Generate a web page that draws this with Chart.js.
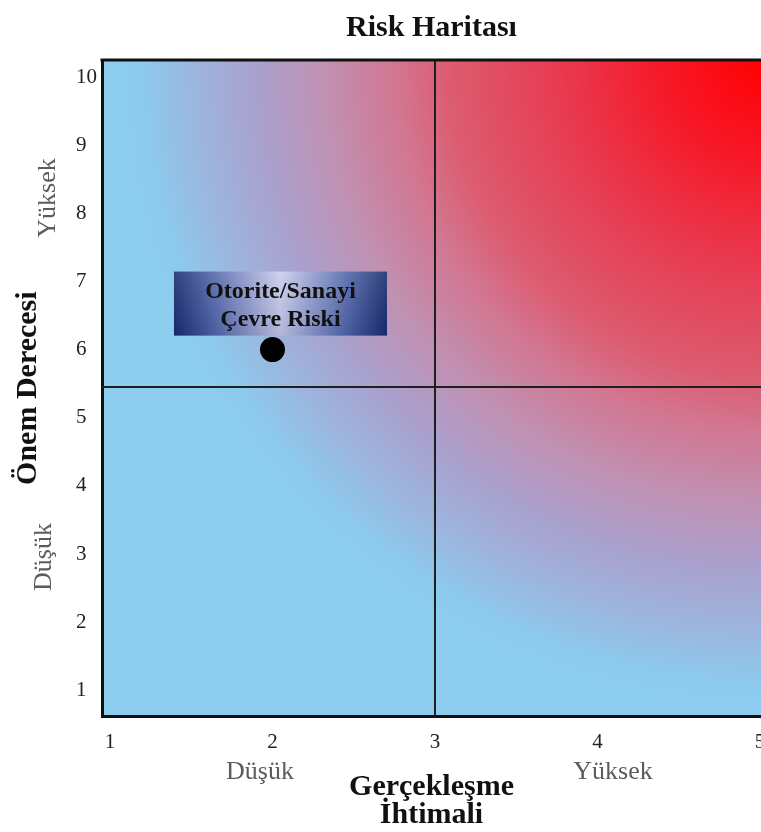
<!DOCTYPE html>
<html lang="tr">
<head>
<meta charset="utf-8">
<title>Risk Haritası</title>
<script src="https://cdn.jsdelivr.net/npm/chart.js@4.4.1/dist/chart.umd.min.js"></script>
<style>
  html, body { margin: 0; padding: 0; background: #ffffff; overflow: hidden; }
  canvas { display: block; }
</style>
</head>
<body>
<canvas id="riskMap" width="761" height="832"></canvas>
<script>
const SERIF = "'Liberation Serif', 'Times New Roman', serif";

// Axis ticks and visible ranges
const probabilityTicks = [1, 2, 3, 4, 5];
const severityTicks = [1, 2, 3, 4, 5, 6, 7, 8, 9, 10];
const probabilityRange = [0.951, 5.006];
const severityRange = [0.618, 10.25];

// Plotted risks
const riskNames = [['Otorite/Sanayi', 'Çevre Riski']];
const riskProbability = [2];
const riskSeverity = [6];

// Quadrant dividers
const dividerProbability = 3;
const dividerSeverity = 5.45;

// Band labels along both axes
const lowLabel = 'Düşük';
const highLabel = 'Yüksek';

const riskPoints = riskProbability.map((x, i) => ({ x, y: riskSeverity[i] }));

// Red-to-blue heat field, hottest in the upper right corner
const heatBackground = {
  id: 'heatBackground',
  beforeDraw(chart) {
    const { ctx, chartArea: a } = chart;
    const cx = a.right + 8, cy = a.top - 4;
    const g = ctx.createRadialGradient(cx, cy, 0, cx, cy, 655);
    g.addColorStop(0.00, 'rgb(255,0,0)');
    g.addColorStop(0.14, 'rgb(248,20,34)');
    g.addColorStop(0.32, 'rgb(232,58,80)');
    g.addColorStop(0.49, 'rgb(220,92,112)');
    g.addColorStop(0.57, 'rgb(210,118,145)');
    g.addColorStop(0.68, 'rgb(192,145,178)');
    g.addColorStop(0.78, 'rgb(170,160,205)');
    g.addColorStop(0.88, 'rgb(155,182,222)');
    g.addColorStop(0.96, 'rgb(140,203,238)');
    g.addColorStop(1.00, 'rgb(140,205,240)');
    ctx.save();
    ctx.fillStyle = g;
    ctx.fillRect(a.left, a.top, a.right - a.left, a.bottom - a.top);
    ctx.restore();
  }
};

// Named boxes above each risk point
const riskLabels = {
  id: 'riskLabels',
  afterDatasetsDraw(chart) {
    const { ctx } = chart;
    const meta = chart.getDatasetMeta(2);
    meta.data.forEach((pt, i) => {
      const w = 213, h = 64;
      const left = pt.x - 98.5, top = pt.y - 78;
      ctx.save();
      const g = ctx.createLinearGradient(left, 0, left + w, 0);
      g.addColorStop(0.00, '#16296c');
      g.addColorStop(0.18, '#4d62a6');
      g.addColorStop(0.50, '#c9cdec');
      g.addColorStop(0.82, '#4d62a6');
      g.addColorStop(1.00, '#16296c');
      ctx.fillStyle = g;
      ctx.fillRect(left, top, w, h);
      const v = ctx.createLinearGradient(0, top, 0, top + h);
      v.addColorStop(0, 'rgba(255,255,255,0.12)');
      v.addColorStop(1, 'rgba(20,30,90,0.12)');
      ctx.fillStyle = v;
      ctx.fillRect(left, top, w, h);
      ctx.fillStyle = '#111111';
      ctx.font = 'bold 24px ' + SERIF;
      ctx.textAlign = 'center';
      ctx.textBaseline = 'middle';
      riskNames[i].forEach((line, k) => {
        ctx.fillText(line, left + w / 2, top + 20 + k * 28);
      });
      ctx.restore();
    });
  }
};

// Top frame edge and the low/high band captions
const frameAndBands = {
  id: 'frameAndBands',
  afterDraw(chart) {
    const { ctx, chartArea: a } = chart;
    ctx.save();
    ctx.strokeStyle = '#111111';
    ctx.lineWidth = 3;
    ctx.beginPath();
    ctx.moveTo(a.left - 1.5, a.top);
    ctx.lineTo(a.right, a.top);
    ctx.stroke();

    ctx.fillStyle = '#5c5c5c';
    ctx.font = '26px ' + SERIF;
    ctx.textAlign = 'center';
    ctx.textBaseline = 'middle';
    ctx.fillText(lowLabel, a.left + 158, a.bottom + 56);
    ctx.fillText(highLabel, a.left + 511, a.bottom + 56);

    ctx.save();
    ctx.translate(48, a.top + 138);
    ctx.rotate(-Math.PI / 2);
    ctx.fillText(highLabel, 0, 0);
    ctx.restore();

    ctx.save();
    ctx.translate(44, a.top + 497);
    ctx.rotate(-Math.PI / 2);
    ctx.fillText(lowLabel, 0, 0);
    ctx.restore();
    ctx.restore();
  }
};

new Chart(document.getElementById('riskMap'), {
  type: 'scatter',
  data: {
    datasets: [
      {
        type: 'line',
        data: [{ x: dividerProbability, y: severityRange[0] }, { x: dividerProbability, y: severityRange[1] }],
        borderColor: '#1f1f1f',
        borderWidth: 2,
        pointRadius: 0,
        fill: false
      },
      {
        type: 'line',
        data: [{ x: probabilityRange[0], y: dividerSeverity }, { x: probabilityRange[1], y: dividerSeverity }],
        borderColor: '#1f1f1f',
        borderWidth: 2,
        pointRadius: 0,
        fill: false
      },
      {
        type: 'scatter',
        data: riskPoints,
        backgroundColor: '#000000',
        borderWidth: 0,
        pointRadius: 12.5,
        pointHoverRadius: 12.5
      }
    ]
  },
  options: {
    responsive: false,
    animation: false,
    layout: { autoPadding: false, padding: { left: 0, right: 0, top: 0, bottom: 0 } },
    plugins: {
      legend: { display: false },
      tooltip: { enabled: false },
      title: {
        display: true,
        fullSize: false,
        text: 'Risk Haritası',
        color: '#111111',
        font: { family: SERIF, size: 30, weight: 'bold', lineHeight: 1.2 },
        padding: { top: 10, bottom: 14 }
      }
    },
    scales: {
      x: {
        type: 'linear',
        min: probabilityRange[0],
        max: probabilityRange[1],
        afterBuildTicks(scale) { scale.ticks = probabilityTicks.map(v => ({ value: v })); },
        afterFit(scale) { scale.paddingRight = 0; },
        grid: { display: false, drawTicks: false },
        border: { display: true, color: '#111111', width: 3 },
        ticks: {
          color: '#222222',
          padding: 13.5,
          font: { family: SERIF, size: 21, lineHeight: 1.2 },
          maxRotation: 0,
          autoSkip: false,
          callback: v => String(v)
        },
        title: {
          display: true,
          text: ['Gerçekleşme', 'İhtimali'],
          color: '#111111',
          font: { family: SERIF, size: 30, weight: 'bold', lineHeight: 0.933 },
          padding: { top: 4.5, bottom: 3 }
        }
      },
      y: {
        type: 'linear',
        min: severityRange[0],
        max: severityRange[1],
        afterBuildTicks(scale) { scale.ticks = severityTicks.map(v => ({ value: v })); },
        grid: { display: false, drawTicks: false },
        border: { display: true, color: '#111111', width: 3 },
        ticks: {
          color: '#222222',
          padding: 5,
          font: { family: SERIF, size: 21, lineHeight: 1.2 },
          autoSkip: false,
          callback: v => (v >= 10 ? String(v) : v + '\u2007')
        },
        title: {
          display: true,
          text: 'Önem Derecesi',
          color: '#111111',
          font: { family: SERIF, size: 30, weight: 'bold', lineHeight: 1.2 },
          padding: { top: 10, bottom: 25 }
        }
      }
    }
  },
  plugins: [heatBackground, riskLabels, frameAndBands]
});
</script>
</body>
</html>
